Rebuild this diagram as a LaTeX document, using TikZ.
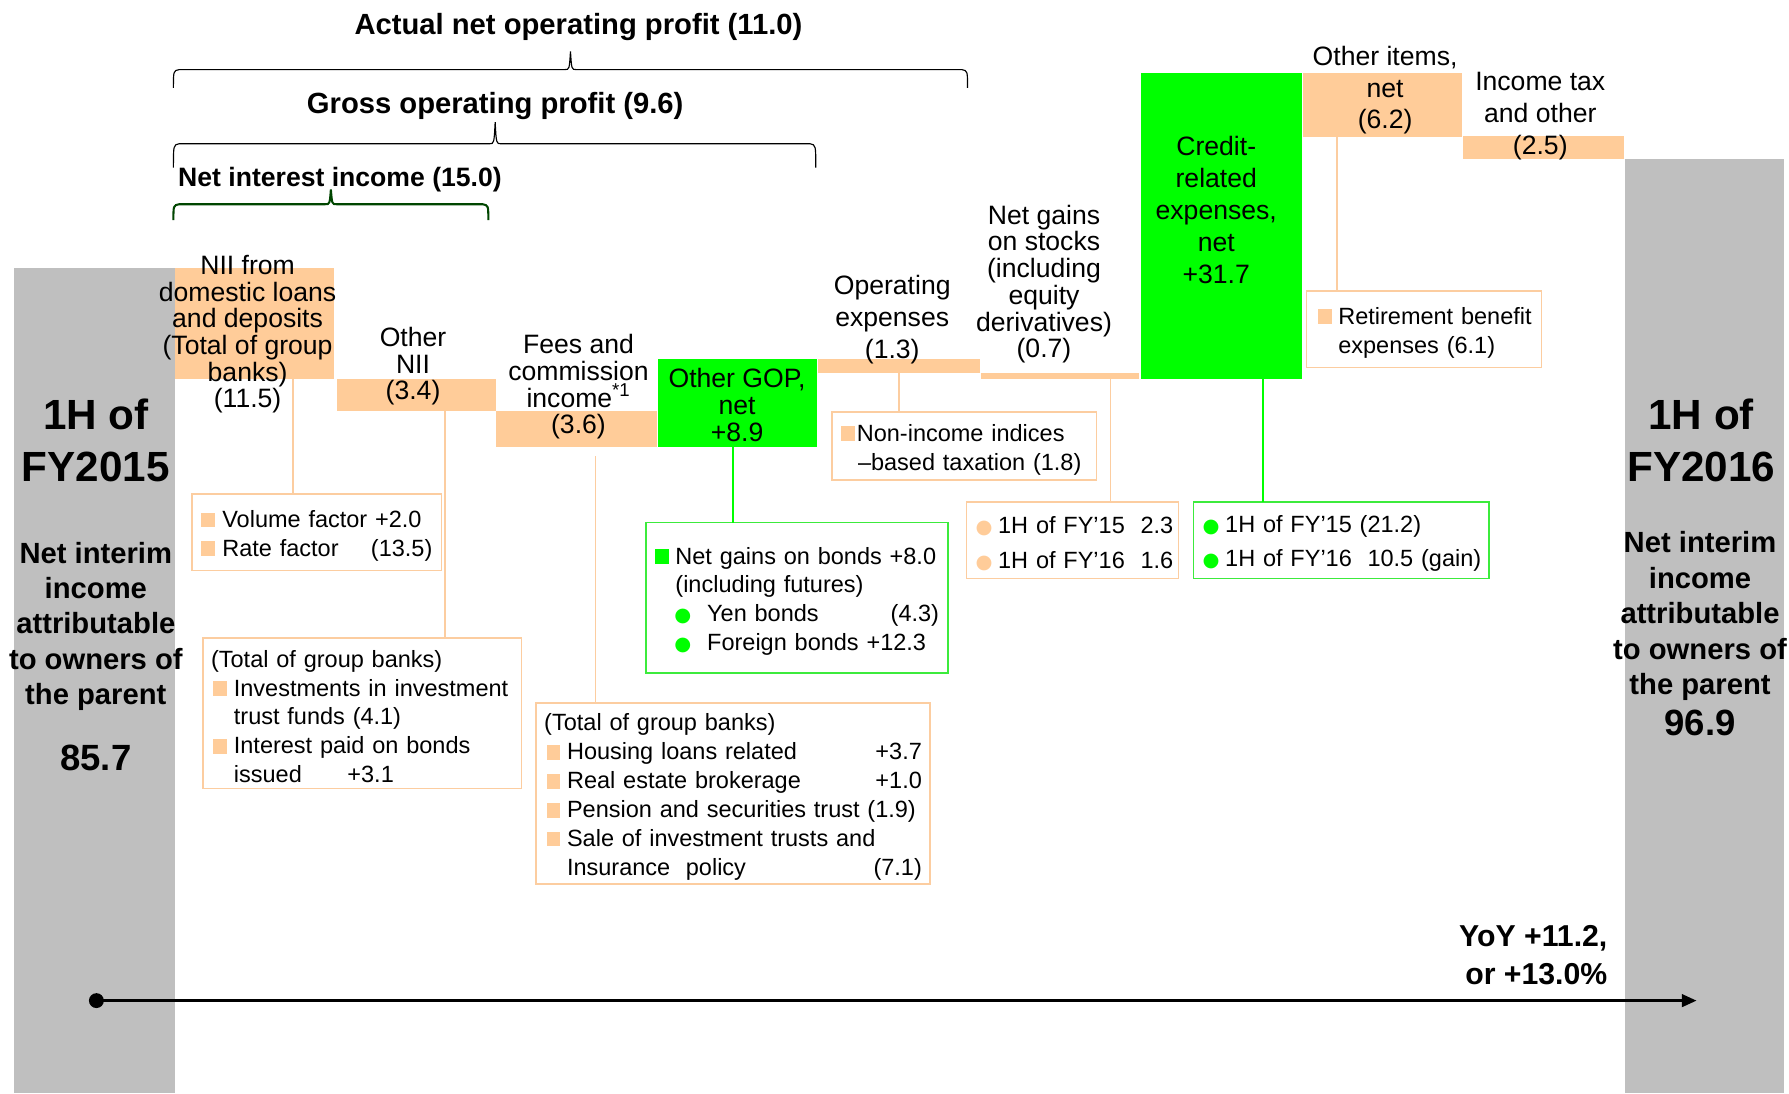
\documentclass[tikz,border=0pt]{standalone}
\usepackage{fontspec}
\setmainfont{Liberation Sans}
\newfontfamily\dejavu{DejaVu Sans}
\usetikzlibrary{arrows.meta}
\definecolor{orng}{RGB}{255,204,153}
\definecolor{oline}{RGB}{252,205,160}
\definecolor{grn}{RGB}{0,255,0}
\definecolor{grnl}{RGB}{60,235,60}
\definecolor{gry}{RGB}{191,191,191}
\definecolor{dkgrn}{RGB}{0,70,0}
\newcommand\flbl{\fontsize{23.3pt}{23.4pt}\selectfont}
\newcommand\flblw{\fontsize{23.3pt}{28pt}\selectfont}
\newcommand\fcall{\fontsize{20.6pt}{25.3pt}\selectfont}
\newcommand\fcallw{\fontsize{20.6pt}{30pt}\selectfont}
\newcommand\ftitle{\fontsize{25.6pt}{30pt}\bfseries\selectfont}
\newcommand\ftitles{\fontsize{23.3pt}{28pt}\bfseries\selectfont}
\newcommand\fside{\fontsize{25.6pt}{31pt}\bfseries\selectfont}
\newcommand\fbig{\fontsize{37pt}{46pt}\bfseries\selectfont}
\newcommand\fval{\fontsize{32pt}{36pt}\bfseries\selectfont}
\newcommand\fyoy{\fontsize{26.5pt}{33pt}\bfseries\selectfont}
\newcommand\sqb{\textcolor{orng}{\rule{12pt}{13pt}}}
\newcommand\gsq{\textcolor{grn}{\rule{12pt}{13pt}}}
\newcommand\gbul{{\dejavu\fontsize{17pt}{17pt}\selectfont\textcolor{grn}{●}}}
\newcommand\obul{{\dejavu\fontsize{17pt}{17pt}\selectfont\textcolor{orng}{●}}}
\newcommand\topst{\rule{0pt}{21pt}}
\tikzset{
  bar/.style={anchor=north west, inner sep=0pt, outer sep=0pt},
  obar/.style={bar, fill=orng},
  gbar/.style={bar, fill=grn},
  graybar/.style={bar, fill=gry},
  lbl/.style={align=center, inner sep=0pt, font=\flbl},
  lblw/.style={align=center, inner sep=0pt, font=\flblw},
  callo/.style={anchor=north west, draw=oline, line width=1.5pt, fill=white, inner ysep=0pt, outer sep=0pt, align=left, font=\fcall},
  callg/.style={callo, draw=grnl},
  conn/.style={draw=oline, line width=1.3pt},
  conng/.style={draw=grn, line width=1.3pt},
  bracel/.style={draw=black, line width=1pt},
  titlet/.style={inner sep=0pt, font=\ftitle},
  bigt/.style={align=center, inner sep=0pt, font=\fbig},
  sidet/.style={align=center, inner sep=0pt, font=\fside},
  valt/.style={inner sep=0pt, font=\fval},
}
\begin{document}
\begin{tikzpicture}[x=1pt,y=-1pt]
\useasboundingbox[fill=white] (0,0) rectangle (1568,958);
% gray end bars
\node[graybar, minimum width=141pt, minimum height=723pt] (lg) at (12,235) {};
\node[graybar, minimum width=140pt, minimum height=819pt] (rg) at (1424,139) {};
% waterfall bars
\node[obar, minimum width=140pt, minimum height=97pt] (nii) at (153,235) {};
\node[obar, minimum width=140pt, minimum height=28pt] (onii) at (295,332) {};
\node[obar, minimum width=141pt, minimum height=32pt] (fees) at (435,360) {};
\node[gbar, minimum width=139pt, minimum height=77pt] (gop) at (577,315) {};
\node[obar, minimum width=142pt, minimum height=12pt] (opex) at (717,315) {};
\node[obar, minimum width=138pt, minimum height=5pt] (stk) at (860,327) {};
\node[gbar, minimum width=141pt, minimum height=268pt] (cred) at (1000,64) {};
\node[obar, minimum width=139pt, minimum height=56pt] (oth) at (1142,64) {};
\node[obar, minimum width=141pt, minimum height=20pt] (itax) at (1282,119) {};
% bar labels
\node[lbl] (lnii) at (217,293) {NII from\\domestic loans\\and deposits\\(Total of group\\banks)\\(11.5)};
\node[lbl] (lonii) at (362,321) {Other\\NII\\(3.4)};
\node[lbl] (lfees) at (507,339) {Fees and\\commission\\income\textsuperscript{*1}\\(3.6)};
\node[lbl] (lgop) at (646,355) {Other GOP,\\net\\+8.9};
\node[lblw] (lopex) at (782,280) {Operating\\expenses\\(1.3)};
\node[lbl] (lstk) at (915,249) {Net gains\\on stocks\\(including\\equity\\derivatives)\\(0.7)};
\node[lblw] (lcred) at (1066,184) {Credit-\\related\\expenses,\\net\\+31.7};
\node[lblw] (loth) at (1214,79) {Other items,\\net\\(6.2)};
\node[lblw] (litax) at (1350,102) {Income tax\\and other\\(2.5)};
% side labels
\node[bigt] (l1h) at (84,386) {1H of\\FY2015};
\node[sidet] (lnet) at (84,549) {Net interim\\income\\attributable\\to owners of\\the parent};
\node[valt] (lval) at (84,664) {85.7};
\node[bigt] (r1h) at (1491,386) {1H of\\FY2016};
\node[sidet] (rnet) at (1490,540) {Net interim\\income\\attributable\\to owners of\\the parent};
\node[valt] (rval) at (1490,634) {96.9};
% titles and braces
\node[titlet] (t1) at (507,24) {Actual net operating profit (11.0)};
\node[titlet] (t2) at (434,93) {Gross operating profit (9.6)};
\node[titlet, font=\ftitles, anchor=west] (t3) at (156,157) {Net interest income (15.0)};
\draw[bracel] (152,77) .. controls (152,62) .. (157,61) -- (495,61) .. controls (499,61) .. (500,45) .. controls (501,61) .. (505,61) -- (843,61) .. controls (848,62) .. (848,77);
\draw[bracel] (152,147) .. controls (152,127) .. (157,126) -- (429,126) .. controls (433,126) .. (434,107) .. controls (435,126) .. (439,126) -- (710,126) .. controls (715,127) .. (715,147);
\draw[draw=dkgrn, line width=1.8pt] (152,193) .. controls (152,180) .. (157,179) -- (285,179) .. controls (289,179) .. (290,166) .. controls (291,179) .. (295,179) -- (423,179) .. controls (428,180) .. (428,193);
% callouts
\node[callo, minimum width=219pt, minimum height=67pt, inner xsep=8pt, text width=203pt] (cvol) at (168,433)
  {\topst\sqb\ Volume factor +2.0\\\sqb\ Rate factor\hfill(13.5)\hspace*{3pt}};
\node[callo, minimum width=279pt, minimum height=132pt, inner xsep=7pt, text width=265pt] (cgb) at (178,559)
  {\topst(Total of group banks)\\
   \hspace*{2pt}\sqb\hspace{6pt}Investments in investment\\
   \hspace*{20pt}trust funds (4.1)\\
   \hspace*{2pt}\sqb\hspace{6pt}Interest paid on bonds\\
   \hspace*{20pt}issued\hspace{40pt}+3.1};
\node[callo, minimum width=345pt, minimum height=159pt, inner xsep=7pt, text width=331pt] (cfees) at (470,616)
  {\topst(Total of group banks)\\
   \hspace*{2pt}\sqb\hspace{6pt}Housing loans related\hfill+3.7\hspace*{8pt}\\
   \hspace*{2pt}\sqb\hspace{6pt}Real estate brokerage\hfill+1.0\hspace*{10pt}\\
   \hspace*{2pt}\sqb\hspace{6pt}Pension and securities trust (1.9)\\
   \hspace*{2pt}\sqb\hspace{6pt}Sale of investment trusts and\\
   \hspace*{20pt}Insurance\ \ policy\hfill(7.1)\hspace*{5pt}};
\node[callg, minimum width=265pt, minimum height=132pt, inner xsep=8pt, text width=249pt] (cbond) at (566,458)
  {\topst\gsq\hspace{6pt}Net gains on bonds +8.0\\
   \hspace*{18pt}(including futures)\\
   \hspace*{17pt}\gbul\hspace{14pt}Yen bonds\hfill(4.3)\hspace*{3pt}\\
   \hspace*{17pt}\gbul\hspace{14pt}Foreign bonds +12.3};
\node[callo, minimum width=232pt, minimum height=60pt, inner xsep=8pt, text width=216pt] (cnon) at (729,361)
  {\topst\sqb\hspace{2pt}Non-income indices\\\hspace*{15pt}--based taxation (1.8)};
\node[callo, font=\fcallw, minimum width=186pt, minimum height=67pt, inner xsep=8pt, text width=170pt] (cstk) at (847,440)
  {\mbox{\topst\obul\hspace{5pt}1H of FY’15\ \ 2.3}\\\mbox{\obul\hspace{5pt}1H of FY’16\ \ 1.6}};
\node[callg, font=\fcallw, minimum width=259pt, minimum height=67pt, inner xsep=8pt, text width=243pt] (ccred) at (1046,440)
  {\mbox{\topst\gbul\hspace{5pt}1H of FY’15 (21.2)}\\\mbox{\gbul\hspace{5pt}1H of FY’16\ \ 10.5 (gain)}};
\node[callo, minimum width=206pt, minimum height=67pt, inner xsep=10pt, text width=186pt] (cret) at (1145,255)
  {\mbox{\topst\sqb\hspace{6pt}Retirement benefit}\\\hspace*{18pt}expenses (6.1)};
% connectors
\draw[conn] ([xshift=34pt]nii.south) -- ([xshift=34pt]nii.south |- cvol.north);
\draw[conn] ([xshift=25pt]onii.south) -- ([xshift=25pt]onii.south |- cgb.north);
\draw[conn, shorten <=8pt] ([xshift=16.5pt]fees.south) -- ([xshift=16.5pt]fees.south |- cfees.north);
\draw[conng] ([xshift=-4pt]gop.south) -- ([xshift=-4pt]gop.south |- cbond.north);
\draw[conn] (opex.south) -- (opex.south |- cnon.north);
\draw[conn] ([xshift=44.5pt]stk.south) -- ([xshift=44.5pt]stk.south |- cstk.north);
\draw[conng] ([xshift=36.5pt]cred.south) -- ([xshift=36.5pt]cred.south |- ccred.north);
\draw[conn] ([xshift=-39.5pt]oth.south) -- ([xshift=-39.5pt]oth.south |- cret.north);
% YoY arrow
\node[align=right, inner sep=0pt, font=\fyoy, anchor=east] (yoy) at (1409,837) {YoY +11.2,\\or +13.0\%};
\coordinate (ya) at (78,877);
\coordinate (yb) at (1487,877);
\draw[line width=2.5pt, {Circle[length=13pt,width=13pt]}-{Triangle[length=13pt,width=11pt]}] (ya) -- (yb);
\end{tikzpicture}
\end{document}
